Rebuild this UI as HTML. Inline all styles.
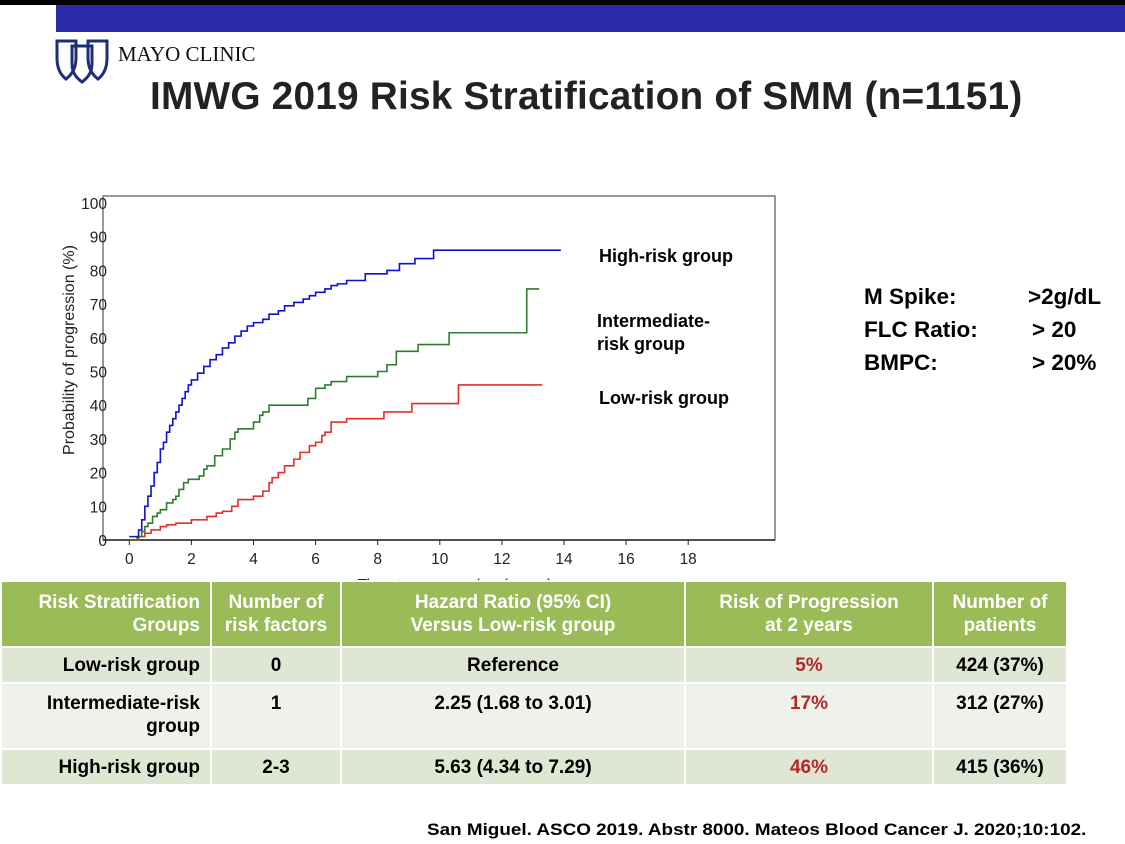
<!DOCTYPE html>
<html><head><meta charset="utf-8">
<style>
body{margin:0;width:1125px;height:844px;overflow:hidden;background:#fff;font-family:"Liberation Sans",Arial,sans-serif;position:relative}
.abs{position:absolute}
table{border-collapse:collapse;position:absolute;left:0;top:580px;width:1066px;table-layout:fixed;font-weight:bold;font-size:19px}
td{border:2px solid #fff;padding:0 10px;line-height:23px}
thead td{background:#9bbb59;color:#fff;height:64px}
tr.r1 td,tr.r3 td{background:#dfe6d3}
tr.r2 td{background:#eff2ea}
.red{color:#b0282a}
</style></head><body>
<div class="abs" style="left:0;top:0;width:1125px;height:5px;background:#000"></div>
<div class="abs" style="left:56px;top:5px;width:1069px;height:27px;background:#2a2aa8"></div>
<svg class="abs" style="left:54px;top:38px" width="56" height="46" viewBox="0 0 56 46">
<g fill="none" stroke="#1e2f7a" stroke-width="3">
<path d="M3 3 H22 V20 C22 32 16 38 12 41 C8 38 3 32 3 20 Z"/>
<path d="M34 3 H53 V20 C53 32 48 38 44 41 C40 38 34 32 34 20 Z"/>
<path d="M18 8 H38 V26 C38 36 32 41 28 44 C24 41 18 36 18 26 Z"/>
</g></svg>
<div class="abs" style="left:118px;top:42px;font-family:'Liberation Serif',serif;font-size:21px;color:#111">MAYO CLINIC</div>
<div class="abs" style="left:150px;top:75px;font-size:38.8px;font-weight:bold;color:#222;white-space:nowrap;letter-spacing:0.2px">IMWG 2019 Risk Stratification of SMM (n=1151)</div>

<svg class="abs" id="chart" style="left:0;top:180px" width="800" height="410"></svg>

<div class="abs" style="left:599px;top:246px;font-size:18px;font-weight:bold">High-risk group</div>
<div class="abs" style="left:597px;top:310px;font-size:18px;font-weight:bold;line-height:23px">Intermediate-<br>risk group</div>
<div class="abs" style="left:599px;top:388px;font-size:18px;font-weight:bold">Low-risk group</div>

<div class="abs" style="left:864px;top:284px;font-size:22.5px;font-weight:bold">M Spike:</div>
<div class="abs" style="left:1028px;top:284px;font-size:22.5px;font-weight:bold">&gt;2g/dL</div>
<div class="abs" style="left:864px;top:317px;font-size:22.5px;font-weight:bold">FLC Ratio:</div>
<div class="abs" style="left:1032px;top:317px;font-size:22.5px;font-weight:bold">&gt; 20</div>
<div class="abs" style="left:864px;top:350px;font-size:22.5px;font-weight:bold">BMPC:</div>
<div class="abs" style="left:1032px;top:350px;font-size:22.5px;font-weight:bold">&gt; 20%</div>

<table>
<colgroup><col style="width:210px"><col style="width:130px"><col style="width:344px"><col style="width:248px"><col style="width:134px"></colgroup>
<thead><tr>
<td style="text-align:right">Risk Stratification<br>Groups</td><td style="text-align:center">Number of<br>risk factors</td><td style="text-align:center">Hazard Ratio (95% CI)<br>Versus Low-risk group</td><td style="text-align:center">Risk of Progression<br>at 2 years</td><td style="text-align:center">Number of<br>patients</td></tr></thead>
<tbody>
<tr class="r1" style="height:36px"><td style="text-align:right">Low-risk group</td><td style="text-align:center">0</td><td style="text-align:center">Reference</td><td style="text-align:center" class="red">5%</td><td style="text-align:center">424 (37%)</td></tr>
<tr class="r2" style="height:66px"><td style="text-align:right;vertical-align:top;padding-top:8px">Intermediate-risk group</td><td style="text-align:center;vertical-align:top;padding-top:8px">1</td><td style="text-align:center;vertical-align:top;padding-top:8px">2.25 (1.68 to 3.01)</td><td style="text-align:center;vertical-align:top;padding-top:8px" class="red">17%</td><td style="text-align:center;vertical-align:top;padding-top:8px">312 (27%)</td></tr>
<tr class="r3" style="height:36px"><td style="text-align:right">High-risk group</td><td style="text-align:center">2-3</td><td style="text-align:center">5.63 (4.34 to 7.29)</td><td style="text-align:center" class="red">46%</td><td style="text-align:center">415 (36%)</td></tr>
</tbody></table>

<div class="abs" style="left:427px;top:820px;font-size:17px;font-weight:bold;white-space:nowrap;transform-origin:0 0;transform:scaleX(1.11)">San Miguel. ASCO 2019. Abstr 8000. Mateos Blood Cancer J. 2020;10:102.</div>

<script>
const xTicks=[0,2,4,6,8,10,12,14,16,18];
const yTicks=[0,10,20,30,40,50,60,70,80,90,100];
const highT=[0,0.25,0.3,0.4,0.5,0.6,0.7,0.8,0.9,1,1.1,1.2,1.3,1.4,1.5,1.6,1.7,1.8,1.9,2,2.2,2.4,2.6,2.8,3,3.2,3.4,3.6,3.8,4,4.3,4.5,4.8,5,5.3,5.6,5.8,6,6.3,6.5,6.7,7,7.6,8.3,8.7,9.2,9.8,13.9];
const highV=[1,1,3,6,10,13,16,20,23,27,29,32,34,36,38,40,42,44,46,47.5,49.5,51.5,53.5,55,57,58.5,60.5,62,63.5,64.5,65.5,67,68,69.5,70.5,71.5,72.5,73.5,74.5,75.5,76,77,79,80,82,83.5,86,86];
const intT=[0,0.25,0.4,0.5,0.6,0.75,0.9,1,1.2,1.4,1.5,1.6,1.75,1.9,2,2.25,2.4,2.5,2.75,3,3.25,3.4,3.5,4,4.2,4.3,4.5,5.5,5.75,6,6.3,6.5,7,8,8.3,8.6,9.3,10.3,12.8,13.2];
const intV=[0,1,2.5,4,5,7,8,9,11,12,13,15,17,18,18,19,21,22,25,27,30,32,33,35,37,38,40,40,42,45,46,47,48.5,50,52,56,58,61.5,74.5,74.5];
const lowT=[0,0.3,0.5,0.7,1,1.2,1.5,2,2.5,2.8,3,3.3,3.5,4,4.3,4.5,4.6,4.8,5,5.3,5.5,5.8,6,6.2,6.3,6.5,7,8.2,9.1,10.6,13.3];
const lowV=[0,1,2,3,4,4.5,5,6,7,8,8.5,10,12,13,14.5,17,18.5,20,22,24,26,28,29,31,32,35,36,38,40.5,46,46];

const OY=180;
const xs=v=>129.3+v*31.05;
const ys=v=>540-OY-v*3.37;
const svg=document.getElementById('chart');
const NS='http://www.w3.org/2000/svg';
function mk(tag,attrs){const e=document.createElementNS(NS,tag);for(const k in attrs)e.setAttribute(k,attrs[k]);svg.appendChild(e);return e;}
let f=mk('rect',{x:103,y:16,width:672,height:ys(0)-16,fill:'none',stroke:'#555','stroke-width':1.2});


let xa=mk('line',{x1:103,x2:775,y1:ys(0),y2:ys(0),stroke:'#222','stroke-width':1.5});


xTicks.forEach(t=>{
  let l=mk('line',{x1:xs(t),x2:xs(t),y1:ys(0),y2:ys(0)+5,stroke:'#222'});
  
  
  let tx=mk('text',{x:xs(t),y:ys(0)+24,'text-anchor':'middle','font-size':15.5,fill:'#222'});
  tx.textContent=t;
  
  
});
yTicks.forEach(t=>{
  let tx=mk('text',{x:107,y:ys(t)+6,'text-anchor':'end','font-size':15.5,fill:'#222'});
  tx.textContent=t;
  
  
});
let yt=mk('text',{x:74,y:170,'text-anchor':'middle','font-size':16,fill:'#222',transform:'rotate(-90 74 170)'});
yt.textContent='Probability of progression (%)';


let xt=mk('text',{x:455,y:410,'text-anchor':'middle','font-size':16,fill:'#222'});
xt.textContent='Time to progression (years)';


function step(T,V){let d='M'+xs(T[0])+' '+ys(V[0]);for(let i=1;i<T.length;i++){d+=' H'+xs(T[i])+' V'+ys(V[i]);}return d;}
[[lowT,lowV,'#e0302a','low-risk-curve'],[intT,intV,'#2e7d2e','intermediate-risk-curve'],[highT,highV,'#1010d0','high-risk-curve']].forEach(s=>{
  let p=mk('path',{d:step(s[0],s[1]),fill:'none',stroke:s[2],'stroke-width':1.6});
  
  
});
</script>
</body></html>
